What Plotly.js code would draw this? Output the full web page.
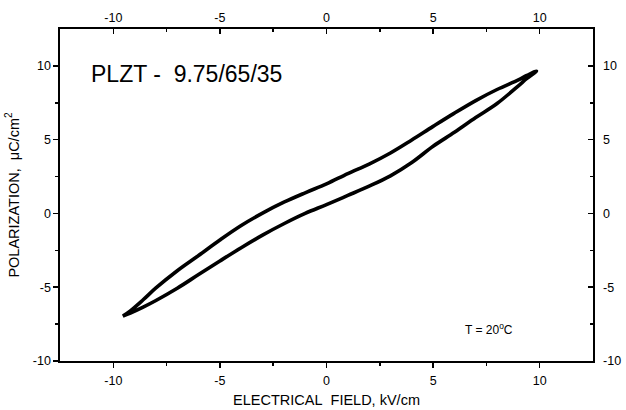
<!DOCTYPE html>
<html>
<head>
<meta charset="utf-8">
<script src="https://cdn.plot.ly/plotly-3.0.1.min.js"></script>
<style>html,body{margin:0;padding:0;background:#fff;}</style>
</head>
<body>
<div id="chart" style="width:626px;height:410px;"></div>
<script>
// Descending-field branch (upper), from +Emax to -Emax
const upperField = [9.85, 9.4, 9.0, 8.0, 7.0, 6.0, 5.0, 4.0, 3.0, 2.0, 1.0, 0.0, -1.0, -2.0, -3.0, -4.0, -5.0, -6.0, -7.0, -8.0, -8.6, -9.2, -9.55];
const upperPol   = [9.65, 9.35, 9.05, 8.4, 7.65, 6.8, 5.9, 4.98, 4.1, 3.35, 2.7, 2.0, 1.4, 0.76, 0.02, -0.82, -1.8, -2.85, -3.88, -5.05, -5.85, -6.6, -6.95];
// Ascending-field branch (lower), from -Emax to +Emax
const lowerField = [-9.55, -9.2, -8.6, -8.0, -7.0, -6.0, -5.0, -4.0, -3.0, -2.0, -1.0, 0.0, 1.0, 2.0, 3.0, 4.0, 5.0, 6.0, 7.0, 8.0, 9.0, 9.4, 9.85];
const lowerPol   = [-6.95, -6.75, -6.35, -5.9, -5.07, -4.14, -3.22, -2.32, -1.47, -0.7, 0.0, 0.6, 1.22, 1.85, 2.55, 3.45, 4.55, 5.5, 6.5, 7.45, 8.65, 9.15, 9.65];

const xTickVals = [-10, -5, 0, 5, 10];
const xTickText = ['-10', '-5', '0', '5', '10'];
const xMinorVals = [-7.5, -2.5, 2.5, 7.5];
const yTickVals = [-10, -5, 0, 5, 10];
const yTickText = ['-10', '-5', '0', '5', '10'];
const yMinorVals = [-7.5, -2.5, 2.5, 7.5];

const loopX = upperField.concat(lowerField);
const loopY = upperPol.concat(lowerPol);

const FONT = 'Liberation Sans, Arial, Helvetica, sans-serif';

const traces = [
  {x: loopX, y: loopY, xaxis: 'x', yaxis: 'y', type: 'scatter', mode: 'lines',
   line: {color: '#000', width: 3.6, shape: 'spline', smoothing: 1}, hoverinfo: 'skip', showlegend: false},
  {x: loopX, y: loopY, xaxis: 'x2', yaxis: 'y2', type: 'scatter', mode: 'lines',
   line: {color: 'rgba(0,0,0,0)', width: 0}, hoverinfo: 'skip', showlegend: false}
];

function axisBase(vals, text, minorVals, ticksDir, range) {
  return {
    range: range, autorange: false,
    tickmode: 'array', tickvals: vals, ticktext: text,
    ticks: ticksDir, ticklen: 5, tickwidth: 1.5, tickcolor: '#000',
    minor: {tickmode: 'array', tickvals: minorVals, ticks: ticksDir, ticklen: 3, tickwidth: 1.5, tickcolor: '#000', showgrid: false},
    showline: true, linewidth: 1.6, linecolor: '#000',
    showgrid: false, zeroline: false,
    tickfont: {family: FONT, size: 12.5, color: '#000'}
  };
}

const xa = axisBase(xTickVals, xTickText, xMinorVals, 'outside', [-12.5, 12.5]);
xa.title = {text: 'ELECTRICAL\u00a0\u00a0FIELD, kV/cm', font: {family: FONT, size: 14.5, color: '#000'}, standoff: 8};
xa.ticklabelstandoff = 2;

const xa2 = axisBase(xTickVals, xTickText, xMinorVals, 'inside', [-12.5, 12.5]);
xa2.overlaying = 'x'; xa2.side = 'top'; xa2.anchor = 'y2';

const ya = axisBase(yTickVals, yTickText, yMinorVals, 'outside', [-10, 12.5]);
ya.title = {text: 'POLARIZATION,\u00a0\u00a0\u03bcC/cm<sup>2</sup>', font: {family: FONT, size: 14.5, color: '#000'}, standoff: 10};

const ya2 = axisBase(yTickVals, yTickText, yMinorVals, 'inside', [-10, 12.5]);
ya2.overlaying = 'y'; ya2.side = 'right'; ya2.anchor = 'x2';
ya2.ticklabelstandoff = 6;

const layout = {
  width: 626, height: 410,
  margin: {l: 60, r: 33, t: 29, b: 49, pad: 0},
  paper_bgcolor: '#fff', plot_bgcolor: '#fff',
  showlegend: false,
  font: {family: FONT, color: '#000'},
  xaxis: xa, xaxis2: xa2, yaxis: ya, yaxis2: ya2,
  annotations: [
    {xref: 'x', yref: 'y', x: -11.15, y: 9.45, text: 'PLZT -\u00a0\u00a09.75/65/35', showarrow: false,
     xanchor: 'left', yanchor: 'middle', font: {family: FONT, size: 23, color: '#000'}},
    {xref: 'x', yref: 'y', x: 6.4, y: -7.85, text: 'T = 20<sup>o</sup>C', showarrow: false,
     xanchor: 'left', yanchor: 'middle', font: {family: FONT, size: 12, color: '#000'}}
  ]
};

Plotly.newPlot('chart', traces, layout, {staticPlot: true, displayModeBar: false});
</script>
</body>
</html>
